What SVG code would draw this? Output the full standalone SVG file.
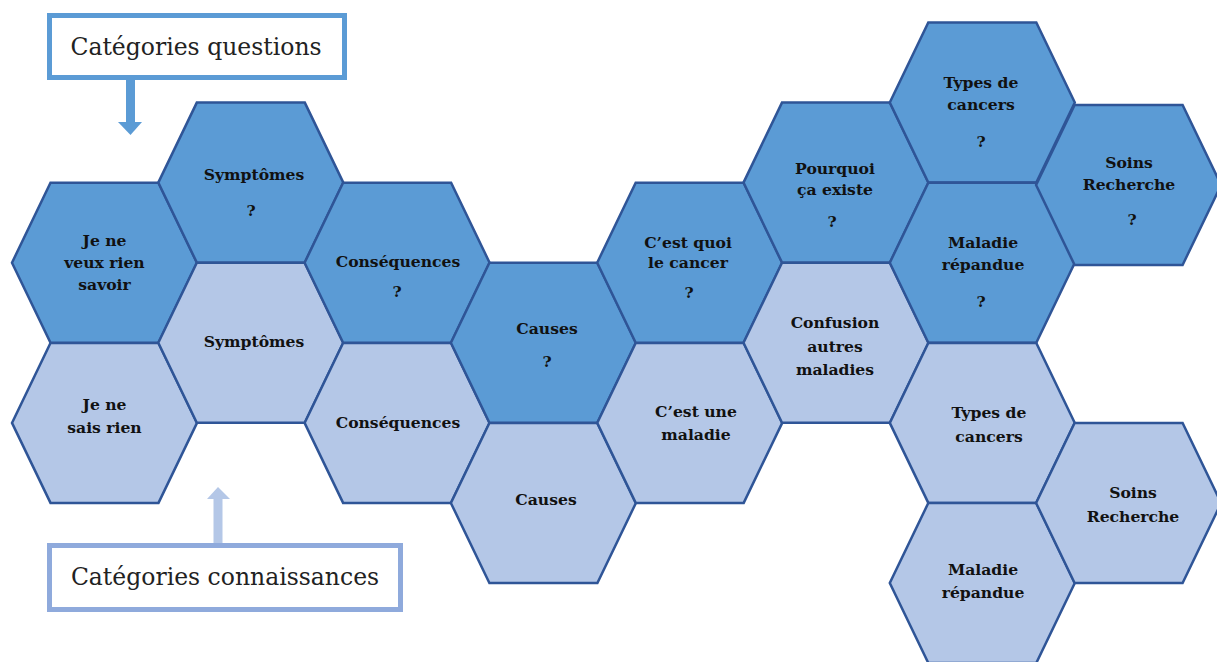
<svg xmlns="http://www.w3.org/2000/svg" xmlns:xlink="http://www.w3.org/1999/xlink" width="1217" height="662" viewBox="0 0 1217 662">
<style>
.dark{fill:#5B9BD5;stroke:#2F5597;stroke-width:2.5;stroke-linejoin:miter}
.light{fill:#B4C7E7;stroke:#2F5597;stroke-width:2.5;stroke-linejoin:miter}
.t{font-family:"DejaVu Serif","Liberation Serif",serif;font-weight:bold;font-size:15.6px;fill:#111;text-anchor:middle}
.lbl{font-family:"DejaVu Serif","Liberation Serif",serif;font-size:23.5px;fill:#222;text-anchor:middle}
</style>
<defs>
<polygon id="hex" points="-54,-80 54,-80 92.5,0 54,80 -54,80 -92.5,0"/>
</defs>
<rect width="1217" height="662" fill="#fff"/>
<g id="connectors">
<g id="arrow-questions" fill="#5B9BD5">
<rect x="126" y="78" width="9" height="47"/>
<polygon points="118,122 142,122 130.5,135"/>
</g>
<g id="arrow-connaissances" fill="#B4C7E7">
<rect x="213.5" y="497" width="9" height="48"/>
<polygon points="207,499 230,499 218,487"/>
</g>
</g>
<g id="label-questions">
<rect x="49.5" y="15.5" width="295" height="62" fill="#fff" stroke="#5B9BD5" stroke-width="5"/>
<text class="lbl" x="196" y="55">Catégories questions</text>
</g>
<g id="label-connaissances">
<rect x="49.5" y="545.5" width="351" height="64" fill="#fff" stroke="#8FAADC" stroke-width="5"/>
<text class="lbl" x="225" y="585">Catégories connaissances</text>
</g>
<g id="n-jenesaisrien"><use xlink:href="#hex" class="light" transform="translate(104.5,422.9)"/><text class="t" x="104.5" y="410">Je ne</text><text class="t" x="104.5" y="433">sais rien</text></g>
<g id="n-jeneveux"><use xlink:href="#hex" class="dark" transform="translate(104.5,262.7)"/><text class="t" x="104.5" y="246">Je ne</text><text class="t" x="104.5" y="268">veux rien</text><text class="t" x="104.5" y="290">savoir</text></g>
<g id="n-symptomes-k"><use xlink:href="#hex" class="light" transform="translate(250.8,342.8)"/><text class="t" x="254" y="347">Symptômes</text></g>
<g id="n-symptomes-q"><use xlink:href="#hex" class="dark" transform="translate(250.8,182.6)"/><text class="t" x="254" y="180">Symptômes</text><text class="t" x="251" y="216">?</text></g>
<g id="n-consequences-k"><use xlink:href="#hex" class="light" transform="translate(397.1,422.9)"/><text class="t" x="398" y="428">Conséquences</text></g>
<g id="n-consequences-q"><use xlink:href="#hex" class="dark" transform="translate(397.1,262.7)"/><text class="t" x="398" y="267">Conséquences</text><text class="t" x="397" y="297">?</text></g>
<g id="n-causes-k"><use xlink:href="#hex" class="light" transform="translate(543.4,503)"/><text class="t" x="546" y="505">Causes</text></g>
<g id="n-causes-q"><use xlink:href="#hex" class="dark" transform="translate(543.4,342.8)"/><text class="t" x="547" y="334">Causes</text><text class="t" x="547" y="367">?</text></g>
<g id="n-cestunemaladie"><use xlink:href="#hex" class="light" transform="translate(689.7,422.9)"/><text class="t" x="696" y="417">C’est une</text><text class="t" x="696" y="440">maladie</text></g>
<g id="n-cestquoi"><use xlink:href="#hex" class="dark" transform="translate(689.7,262.7)"/><text class="t" x="688" y="248">C’est quoi</text><text class="t" x="688" y="268">le cancer</text><text class="t" x="689" y="298">?</text></g>
<g id="n-confusion"><use xlink:href="#hex" class="light" transform="translate(836,342.8)"/><text class="t" x="835" y="328">Confusion</text><text class="t" x="835" y="352">autres</text><text class="t" x="835" y="375">maladies</text></g>
<g id="n-pourquoi"><use xlink:href="#hex" class="dark" transform="translate(836,182.6)"/><text class="t" x="835" y="174">Pourquoi</text><text class="t" x="835" y="195">ça existe</text><text class="t" x="832" y="227">?</text></g>
<g id="n-types-q"><use xlink:href="#hex" class="dark" transform="translate(982.3,102.5)"/><text class="t" x="981" y="88">Types de</text><text class="t" x="981" y="110">cancers</text><text class="t" x="981" y="147">?</text></g>
<g id="n-maladie-q"><use xlink:href="#hex" class="dark" transform="translate(982.3,262.7)"/><text class="t" x="983" y="248">Maladie</text><text class="t" x="983" y="270">répandue</text><text class="t" x="981" y="307">?</text></g>
<g id="n-types-k"><use xlink:href="#hex" class="light" transform="translate(982.3,422.9)"/><text class="t" x="989" y="418">Types de</text><text class="t" x="989" y="442">cancers</text></g>
<g id="n-maladie-k"><use xlink:href="#hex" class="light" transform="translate(982.3,583)"/><text class="t" x="983" y="575">Maladie</text><text class="t" x="983" y="598">répandue</text></g>
<g id="n-soins-q"><use xlink:href="#hex" class="dark" transform="translate(1128.6,185)"/><text class="t" x="1129" y="168">Soins</text><text class="t" x="1129" y="190">Recherche</text><text class="t" x="1132" y="225">?</text></g>
<g id="n-soins-k"><use xlink:href="#hex" class="light" transform="translate(1128.6,503)"/><text class="t" x="1133" y="498">Soins</text><text class="t" x="1133" y="522">Recherche</text></g>
</svg>
